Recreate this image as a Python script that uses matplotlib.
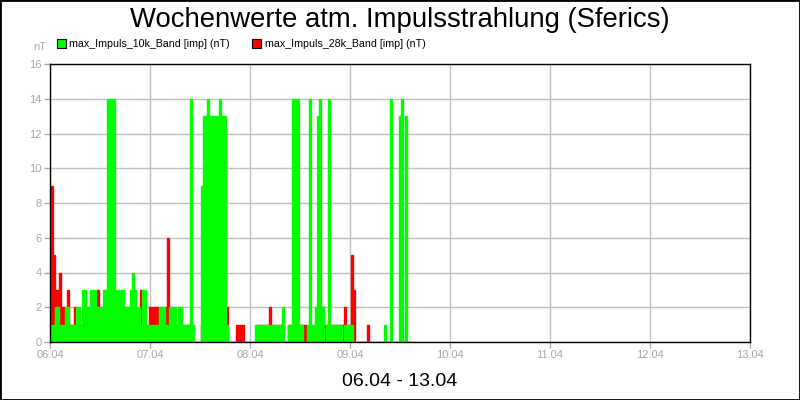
import matplotlib
matplotlib.use("Agg")
import matplotlib.pyplot as plt
from matplotlib.patches import Patch, Rectangle

plt.rcParams["font.family"] = ["Liberation Sans", "DejaVu Sans"]

# half-hour values starting 06.04 00:00
band_10k = [
    # 06.04
    1, 1, 2, 2, 1, 1, 1, 2, 2, 1, 1, 1, 2, 2, 1, 3, 3, 2, 2, 3, 3, 3, 2, 2,
    2, 3, 3, 14, 14, 14, 14, 3, 3, 3, 3, 2, 2, 2, 3, 4, 3, 2, 2, 1, 3, 3, 1, 1,
    # 07.04
    1, 1, 1, 1, 2, 2, 2, 1, 1, 2, 2, 2, 1, 2, 2, 1, 1, 1, 1, 14, 1, 0, 0, 0,
    9, 13, 13, 14, 13, 13, 13, 13, 13, 14, 13, 13, 1, 0, 0, 0, 0, 0, 0, 0, 0, 0, 0, 0,
    # 08.04
    0, 0, 1, 1, 1, 1, 1, 1, 1, 1, 1, 1, 1, 1, 1, 2, 0, 0, 1, 1, 14, 14, 14, 1,
    1, 0, 0, 1, 14, 1, 1, 2, 13, 14, 2, 0, 1, 14, 1, 1, 1, 1, 1, 1, 0, 1, 1, 1,
    # 09.04
    1, 0, 0, 0, 0, 0, 0, 0, 0, 0, 0, 0, 0, 0, 0, 0, 1, 0, 0, 14, 0, 0, 0, 13,
    14, 0, 13, 0,
]
band_28k = [
    # 06.04
    9, 5, 3, 3, 4, 2, 2, 1, 3, 1, 1, 2, 1, 1, 1, 1, 1, 1, 1, 1, 1, 1, 3, 1,
    1, 1, 1, 1, 1, 1, 1, 1, 1, 1, 1, 1, 1, 1, 1, 1, 1, 1, 1, 3, 1, 1, 1, 2,
    # 07.04
    2, 2, 2, 2, 1, 1, 1, 2, 6, 2, 1, 1, 1, 1, 1, 1, 1, 1, 1, 1, 1, 0, 0, 0,
    1, 1, 1, 1, 1, 1, 1, 1, 1, 1, 1, 1, 2, 0, 0, 0, 0, 1, 1, 1, 1, 0, 0, 0,
    # 08.04
    0, 0, 0, 1, 1, 1, 1, 1, 1, 2, 1, 1, 1, 1, 1, 1, 0, 0, 1, 1, 1, 1, 1, 1,
    1, 1, 1, 0, 1, 1, 1, 1, 1, 1, 2, 1, 1, 1, 1, 1, 1, 1, 1, 1, 1, 2, 1, 1,
    # 09.04
    5, 3, 0, 0, 0, 0, 0, 0, 1, 0, 0, 0, 0, 0, 0, 0, 0, 0, 0, 0, 0, 0, 0, 0,
    0, 0, 0, 0,
]
day_labels = ["06.04", "07.04", "08.04", "09.04", "10.04", "11.04", "12.04", "13.04"]
y_ticks = [0, 2, 4, 6, 8, 10, 12, 14, 16]

step = 0.5 / 24  # days
x = [i * step for i in range(len(band_10k))]

fig = plt.figure(figsize=(8, 4), dpi=100)
ax = fig.add_axes([50 / 800, 58 / 400, 700 / 800, 278 / 400])

grey = "#a8a8a8"
# small offset so the first bar is not hidden under the left spine
xs = [v + 0.006 for v in x]
ax.bar(xs, band_28k, width=step, align="edge", color="#ff0000", edgecolor="#ff0000",
       linewidth=1, zorder=2)
ax.bar(xs, band_10k, width=step, align="edge", color="#00ff00", edgecolor="#00ff00",
       linewidth=1, zorder=3)

ax.set_xlim(0, len(day_labels) - 1)
ax.set_ylim(0, 16)
ax.set_xticks(range(len(day_labels)))
ax.set_xticklabels(day_labels)
ax.set_yticks(y_ticks)
ax.grid(True, color="#c0c0c0", linewidth=1, zorder=0)
ax.set_axisbelow(True)
ax.tick_params(colors=grey, labelsize=8, length=4, width=1, labelcolor=grey, pad=2)
for s in ax.spines.values():
    s.set_color("black")
    s.set_linewidth(1)
    s.set_zorder(5)

fig.text(0.5, 0.95, "Wochenwerte atm. Impulsstrahlung (Sferics)", ha="center", va="center",
         fontsize=19.8)
fig.text(0.5, 0.047, "06.04 - 13.04", ha="center", va="center", fontsize=14)
fig.text(40 / 800, 1 - 47 / 400, "nT", ha="center", va="center", fontsize=8, color=grey)

handles = [Patch(facecolor="#00ff00", edgecolor="black", linewidth=0.8),
           Patch(facecolor="#ff0000", edgecolor="black", linewidth=0.8)]
fig.legend(handles, ["max_Impuls_10k_Band [imp] (nT)", "max_Impuls_28k_Band [imp] (nT)"],
           loc="center left", bbox_to_anchor=(57 / 800, 1 - 44 / 400), ncol=2, frameon=False,
           fontsize=7.7, handlelength=0.85, handleheight=0.85, handletextpad=0.3,
           columnspacing=2.1, borderpad=0, borderaxespad=0)

fig.patches.append(Rectangle((0, 0), 1, 1, transform=fig.transFigure, fill=False,
                             edgecolor="black", linewidth=2))

fig.savefig("out.png", dpi=100, facecolor="white")
